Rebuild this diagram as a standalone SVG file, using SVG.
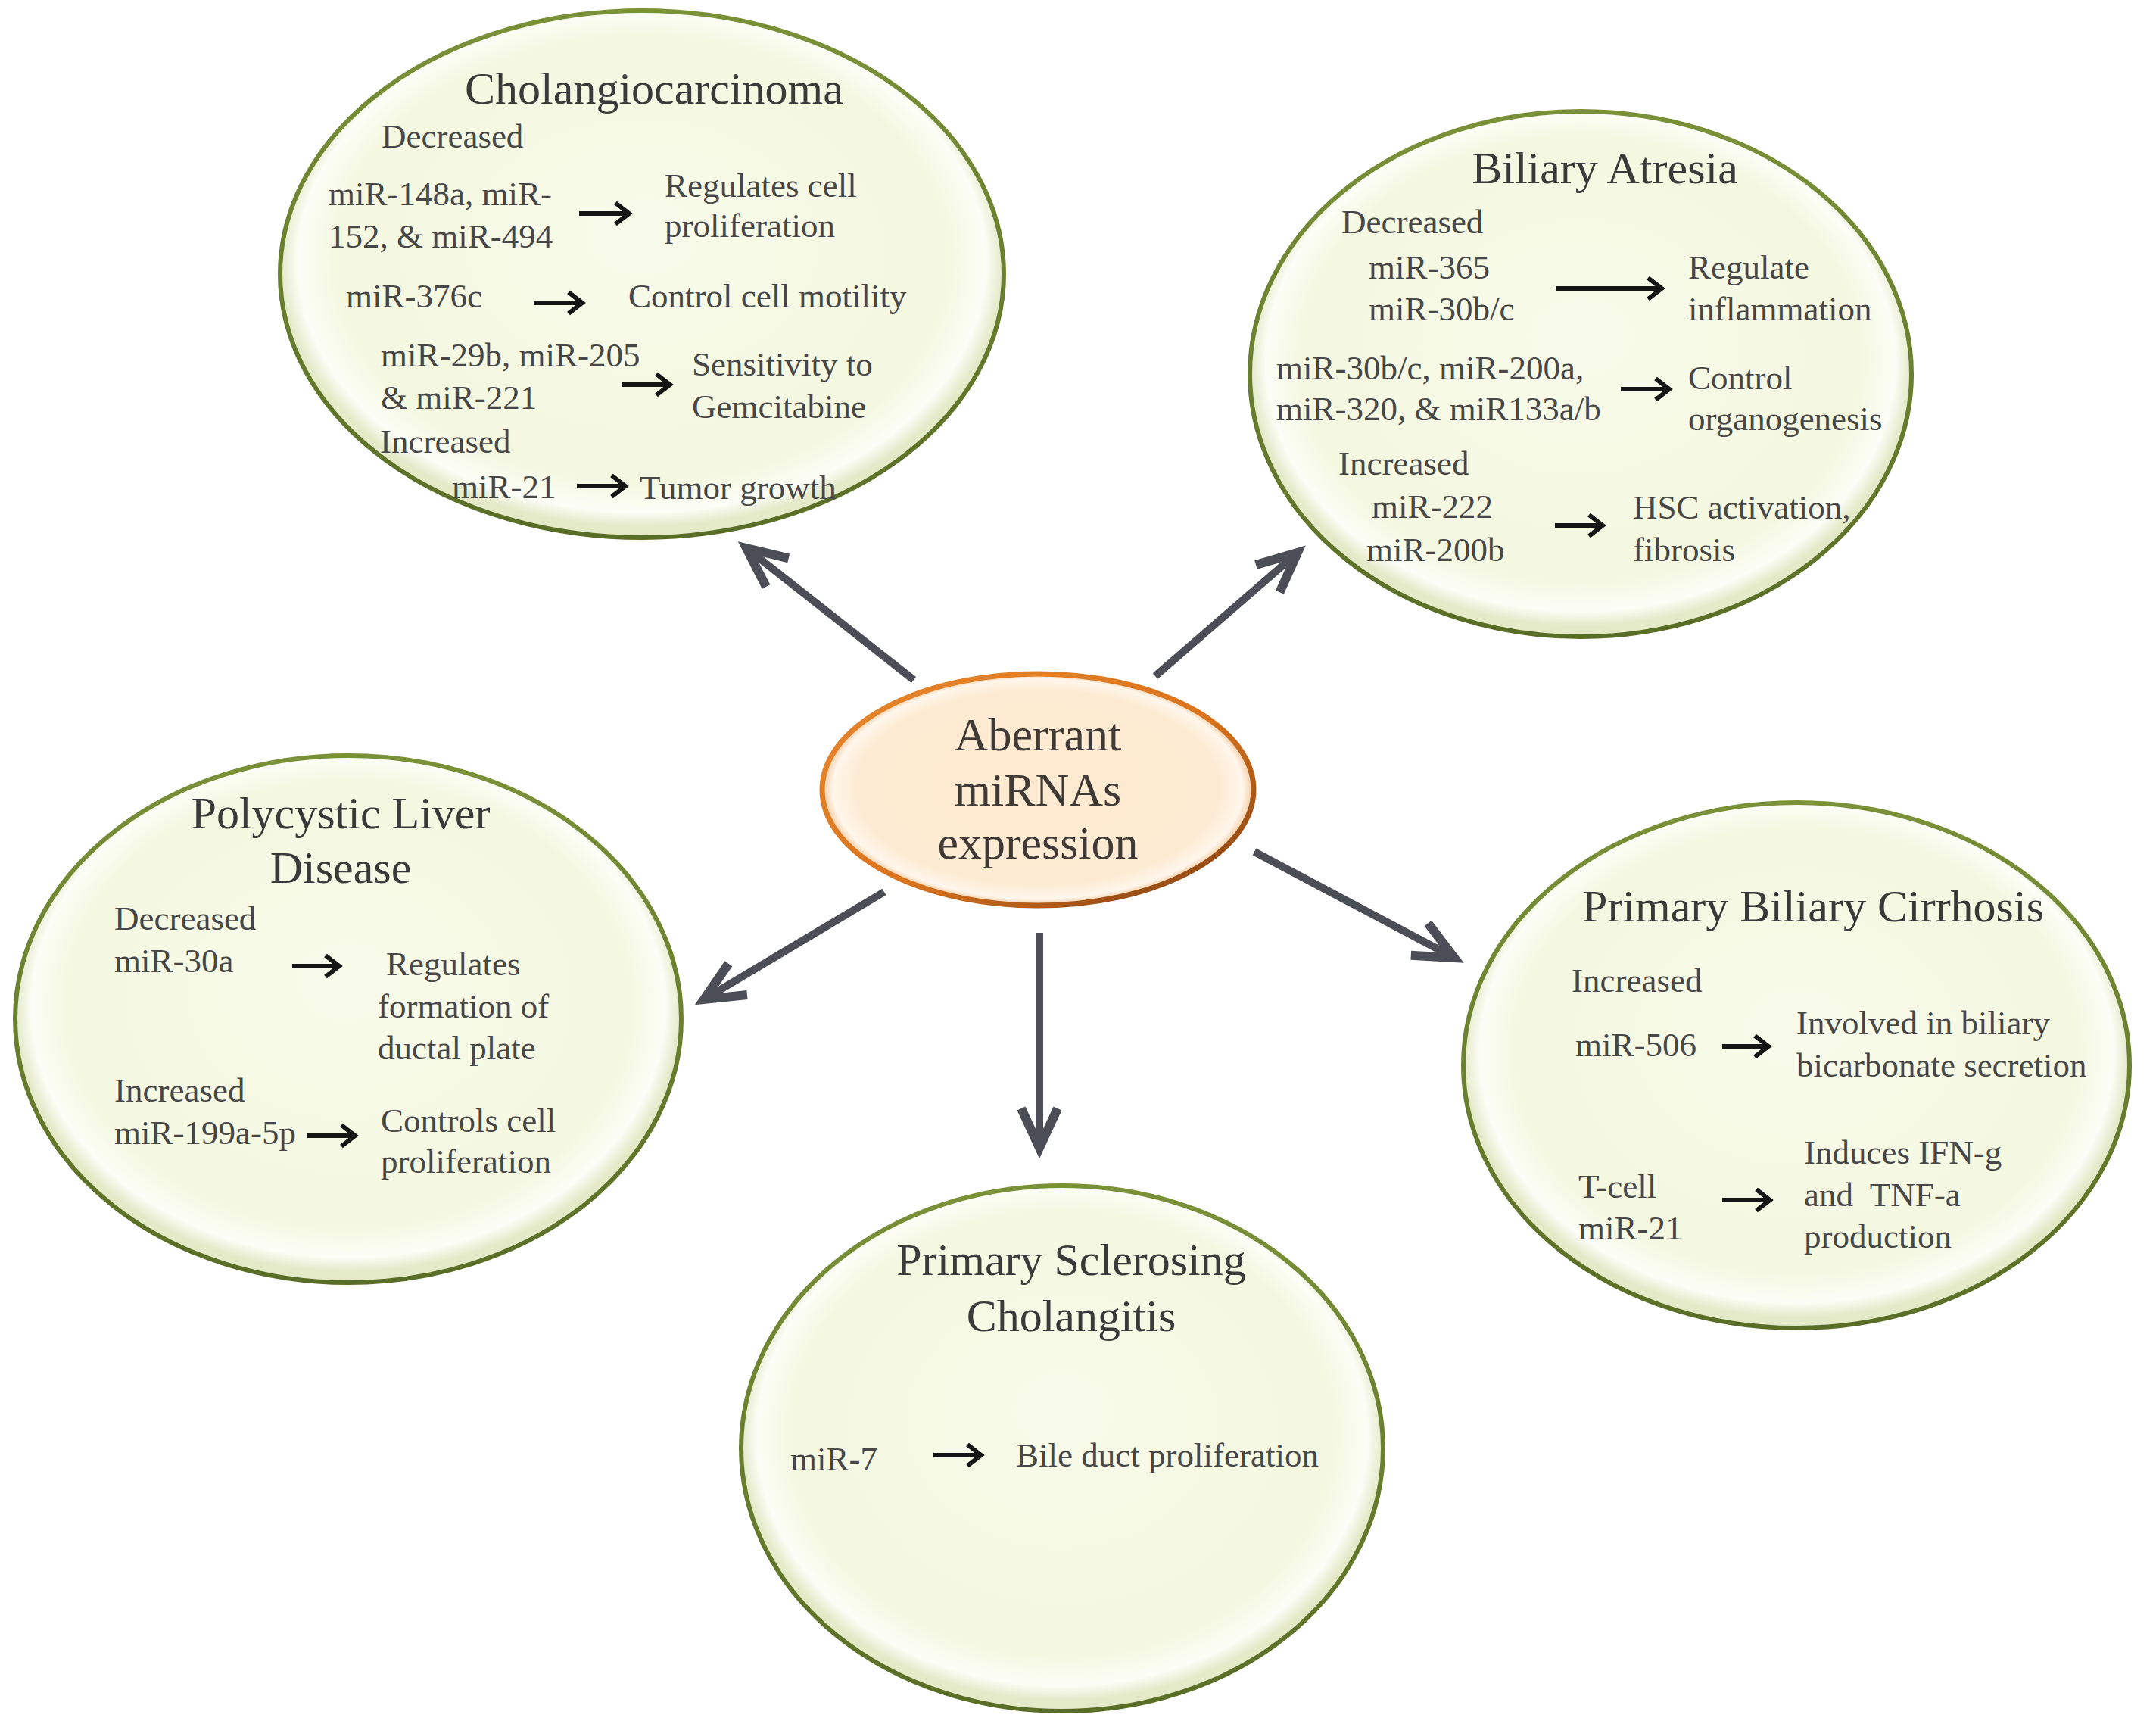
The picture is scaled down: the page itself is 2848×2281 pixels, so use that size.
<svg xmlns="http://www.w3.org/2000/svg" width="2848" height="2281" viewBox="0 0 2848 2281">
<defs>
<radialGradient id="gFill" cx="50%" cy="48%" r="50%" fx="50%" fy="42%">
<stop offset="0" stop-color="#f8fbea"/>
<stop offset="0.84" stop-color="#f4f8e0"/>
<stop offset="0.95" stop-color="#fcfdf6"/>
<stop offset="1" stop-color="#e4e9c8"/>
</radialGradient>
<linearGradient id="gStroke" x1="0" y1="0" x2="0" y2="1">
<stop offset="0" stop-color="#7a9138"/>
<stop offset="1" stop-color="#5a6d26"/>
</linearGradient>
<radialGradient id="cFill" cx="50%" cy="50%" r="50%" fx="50%" fy="44%">
<stop offset="0" stop-color="#fde9cf"/>
<stop offset="0.84" stop-color="#fdebd3"/>
<stop offset="0.95" stop-color="#fff6ec"/>
<stop offset="1" stop-color="#f4c89a"/>
</radialGradient>
<linearGradient id="cStroke" x1="0" y1="0" x2="1" y2="1">
<stop offset="0" stop-color="#e8872e"/>
<stop offset="0.55" stop-color="#d9731c"/>
<stop offset="1" stop-color="#7a3c12"/>
</linearGradient>
<marker id="bigHead" markerUnits="userSpaceOnUse" viewBox="-70 -40 100 80" refX="0" refY="0" markerWidth="100" markerHeight="80" orient="auto">
<path d="M-52,-24 L0,0 L-52,24" fill="none" stroke="#4b4e56" stroke-width="12" stroke-linejoin="miter" stroke-miterlimit="10"/>
</marker>
<marker id="smallHead" markerUnits="userSpaceOnUse" viewBox="-30 -20 40 40" refX="0" refY="0" markerWidth="40" markerHeight="40" orient="auto">
<path d="M-18,-14 L0,0 L-18,14" fill="none" stroke="#151515" stroke-width="6" stroke-linejoin="miter"/>
</marker>
</defs>
<style>
.disease{fill:url(#gFill);stroke:url(#gStroke);stroke-width:6}
.center{fill:url(#cFill);stroke:url(#cStroke);stroke-width:7}
.title{font-family:"Liberation Serif","DejaVu Serif",serif;font-size:60px;fill:#3a3a3a;text-anchor:middle}
.ctext{font-family:"Liberation Serif","DejaVu Serif",serif;font-size:62px;fill:#3f3a35;text-anchor:middle}
.body{font-family:"Liberation Serif","DejaVu Serif",serif;font-size:45px;fill:#474747}
.conn{stroke:#4b4e56;stroke-width:10;fill:none;marker-end:url(#bigHead)}
.sarrow{stroke:#151515;stroke-width:6;fill:none;marker-end:url(#smallHead)}
</style>
<rect width="2848" height="2281" fill="#ffffff"/>

<g id="connectors">
<line class="conn" x1="1207" y1="898" x2="986" y2="724"/>
<line class="conn" x1="1526" y1="893" x2="1714" y2="730"/>
<line class="conn" x1="1168" y1="1178" x2="930" y2="1320"/>
<line class="conn" x1="1373" y1="1232" x2="1373" y2="1516"/>
<line class="conn" x1="1657" y1="1125" x2="1921" y2="1265"/>
</g>

<g id="cholangiocarcinoma">
<ellipse class="disease" cx="848" cy="362" rx="478" ry="348"/>
<text class="title" x="864" y="137">Cholangiocarcinoma</text>
<text class="body" x="504" y="195">Decreased</text>
<text class="body" x="434" y="271">miR-148a, miR-</text>
<text class="body" x="434" y="327">152, &amp; miR-494</text>
<line class="sarrow" x1="765" y1="282" x2="831" y2="282"/>
<text class="body" x="878" y="260">Regulates cell</text>
<text class="body" x="878" y="313">proliferation</text>
<text class="body" x="457" y="406">miR-376c</text>
<line class="sarrow" x1="705" y1="400" x2="769" y2="400"/>
<text class="body" x="830" y="406">Control cell motility</text>
<text class="body" x="503" y="484">miR-29b, miR-205</text>
<text class="body" x="503" y="540">&amp; miR-221</text>
<line class="sarrow" x1="822" y1="508" x2="885" y2="508"/>
<text class="body" x="914" y="496">Sensitivity to</text>
<text class="body" x="914" y="552">Gemcitabine</text>
<text class="body" x="502" y="598">Increased</text>
<text class="body" x="597" y="658">miR-21</text>
<line class="sarrow" x1="762" y1="642" x2="826" y2="642"/>
<text class="body" x="845" y="659">Tumor growth</text>
</g>

<g id="biliary-atresia">
<ellipse class="disease" cx="2088" cy="494" rx="437" ry="347"/>
<text class="title" x="2120" y="242">Biliary Atresia</text>
<text class="body" x="1772" y="308">Decreased</text>
<text class="body" x="1808" y="368">miR-365</text>
<text class="body" x="1808" y="423">miR-30b/c</text>
<line class="sarrow" x1="2055" y1="381" x2="2195" y2="381"/>
<text class="body" x="2230" y="368">Regulate</text>
<text class="body" x="2230" y="423">inflammation</text>
<text class="body" x="1686" y="501">miR-30b/c, miR-200a,</text>
<text class="body" x="1686" y="555">miR-320, &amp; miR133a/b</text>
<line class="sarrow" x1="2141" y1="514" x2="2205" y2="514"/>
<text class="body" x="2230" y="514">Control</text>
<text class="body" x="2230" y="568">organogenesis</text>
<text class="body" x="1768" y="627">Increased</text>
<text class="body" x="1812" y="684">miR-222</text>
<text class="body" x="1805" y="741">miR-200b</text>
<line class="sarrow" x1="2054" y1="694" x2="2117" y2="694"/>
<text class="body" x="2157" y="685">HSC activation,</text>
<text class="body" x="2157" y="741">fibrosis</text>
</g>

<g id="aberrant-mirnas">
<ellipse class="center" cx="1371" cy="1043" rx="285" ry="153"/>
<text class="ctext" x="1371" y="991">Aberrant</text>
<text class="ctext" x="1371" y="1064">miRNAs</text>
<text class="ctext" x="1371" y="1134">expression</text>
</g>

<g id="polycystic-liver-disease">
<ellipse class="disease" cx="460" cy="1346" rx="440" ry="348"/>
<text class="title" x="450" y="1094">Polycystic Liver</text>
<text class="title" x="450" y="1166">Disease</text>
<text class="body" x="151" y="1228">Decreased</text>
<text class="body" x="151" y="1284">miR-30a</text>
<line class="sarrow" x1="386" y1="1276" x2="448" y2="1276"/>
<text class="body" x="510" y="1288">Regulates</text>
<text class="body" x="499" y="1344">formation of</text>
<text class="body" x="499" y="1399">ductal plate</text>
<text class="body" x="151" y="1455">Increased</text>
<text class="body" x="151" y="1511">miR-199a-5p</text>
<line class="sarrow" x1="405" y1="1500" x2="469" y2="1500"/>
<text class="body" x="503" y="1495">Controls cell</text>
<text class="body" x="503" y="1549">proliferation</text>
</g>

<g id="primary-biliary-cirrhosis">
<ellipse class="disease" cx="2373" cy="1407" rx="440" ry="347"/>
<text class="title" x="2395" y="1217">Primary Biliary Cirrhosis</text>
<text class="body" x="2076" y="1310">Increased</text>
<text class="body" x="2081" y="1395">miR-506</text>
<line class="sarrow" x1="2275" y1="1382" x2="2336" y2="1382"/>
<text class="body" x="2373" y="1366">Involved in biliary</text>
<text class="body" x="2373" y="1422">bicarbonate secretion</text>
<text class="body" x="2085" y="1582">T-cell</text>
<text class="body" x="2085" y="1637">miR-21</text>
<line class="sarrow" x1="2275" y1="1585" x2="2338" y2="1585"/>
<text class="body" x="2383" y="1537">Induces IFN-g</text>
<text class="body" x="2383" y="1593" xml:space="preserve">and  TNF-a</text>
<text class="body" x="2383" y="1648">production</text>
</g>

<g id="primary-sclerosing-cholangitis">
<ellipse class="disease" cx="1403" cy="1913" rx="424" ry="347"/>
<text class="title" x="1415" y="1684">Primary Sclerosing</text>
<text class="title" x="1415" y="1758">Cholangitis</text>
<text class="body" x="1044" y="1942">miR-7</text>
<line class="sarrow" x1="1233" y1="1922" x2="1296" y2="1922"/>
<text class="body" x="1342" y="1937">Bile duct proliferation</text>
</g>
</svg>
